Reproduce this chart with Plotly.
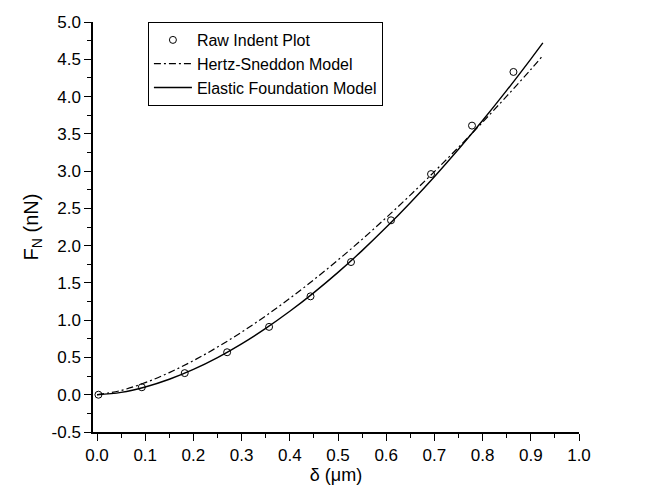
import plotly.graph_objects as go

# Raw indentation data
raw_x = [0.003, 0.093, 0.182, 0.270, 0.357, 0.443, 0.527, 0.610, 0.693, 0.778, 0.864]
raw_y = [0.00, 0.10, 0.29, 0.57, 0.91, 1.32, 1.78, 2.34, 2.96, 3.61, 4.33]

# Model curves
model_x = [0.0, 0.05, 0.10, 0.15, 0.20, 0.25, 0.30, 0.35, 0.40, 0.45, 0.50,
           0.55, 0.60, 0.65, 0.70, 0.75, 0.80, 0.85, 0.90, 0.925]
hertz_y = [0.0, 0.057, 0.162, 0.297, 0.457, 0.639, 0.840, 1.058, 1.293, 1.543, 1.807,
           2.084, 2.375, 2.678, 2.993, 3.319, 3.656, 4.005, 4.363, 4.55]
ef_y = [0.0, 0.032, 0.104, 0.208, 0.340, 0.499, 0.683, 0.890, 1.119, 1.370, 1.641,
        1.933, 2.245, 2.576, 2.925, 3.293, 3.678, 4.082, 4.503, 4.72]

x_ticks = [0.0, 0.1, 0.2, 0.3, 0.4, 0.5, 0.6, 0.7, 0.8, 0.9, 1.0]
x_labels = ["0.0", "0.1", "0.2", "0.3", "0.4", "0.5", "0.6", "0.7", "0.8", "0.9", "1.0"]
y_ticks = [-0.5, 0.0, 0.5, 1.0, 1.5, 2.0, 2.5, 3.0, 3.5, 4.0, 4.5, 5.0]
y_labels = ["-0.5", "0.0", "0.5", "1.0", "1.5", "2.0", "2.5", "3.0", "3.5", "4.0", "4.5", "5.0"]

fig = go.Figure()
fig.add_trace(go.Scatter(x=raw_x, y=raw_y, mode="markers", name="Raw Indent Plot",
                         marker=dict(symbol="circle-open", size=7, color="black",
                                     line=dict(width=1, color="black"))))
fig.add_trace(go.Scatter(x=model_x, y=hertz_y, mode="lines", name="Hertz-Sneddon Model",
                         line=dict(color="black", width=1.2, dash="7px,3px,2px,3px", shape="spline")))
fig.add_trace(go.Scatter(x=model_x, y=ef_y, mode="lines", name="Elastic Foundation Model",
                         line=dict(color="black", width=1.4, shape="spline")))

font = "Liberation Sans, Arial, sans-serif"
fig.update_layout(
    width=646, height=485,
    margin=dict(l=85, r=75, t=14, b=61),
    plot_bgcolor="white", paper_bgcolor="white",
    font=dict(family=font, color="black", size=17),
    showlegend=True,
    legend=dict(x=0.113, y=1.0, xanchor="left", yanchor="top",
                bordercolor="black", borderwidth=1, bgcolor="white",
                font=dict(size=16, family=font), tracegroupgap=0, itemwidth=38),
    xaxis=dict(range=[-0.0083, 1.0], tickvals=x_ticks, ticktext=x_labels,
               ticks="outside", ticklen=7, tickwidth=1, tickcolor="black",
               showline=True, linecolor="black", linewidth=1.5,
               showgrid=False, zeroline=False, automargin=False,
               minor=dict(ticks="outside", ticklen=4, dtick=0.05, tick0=0, tickcolor="black", showgrid=False),
               title=dict(text="δ (μm)", font=dict(size=18), standoff=4),
               tickfont=dict(size=17)),
    yaxis=dict(range=[-0.5, 5.0], tickvals=y_ticks, ticktext=y_labels,
               ticks="outside", ticklen=7, tickwidth=1, tickcolor="black",
               showline=True, linecolor="black", linewidth=1.5,
               showgrid=False, zeroline=False, automargin=False,
               minor=dict(ticks="outside", ticklen=4, dtick=0.25, tick0=0, tickcolor="black", showgrid=False),
               title=dict(text="F<sub>N</sub> (nN)", font=dict(size=20), standoff=8),
               tickfont=dict(size=17)),
)

fig.write_html("out.html")
